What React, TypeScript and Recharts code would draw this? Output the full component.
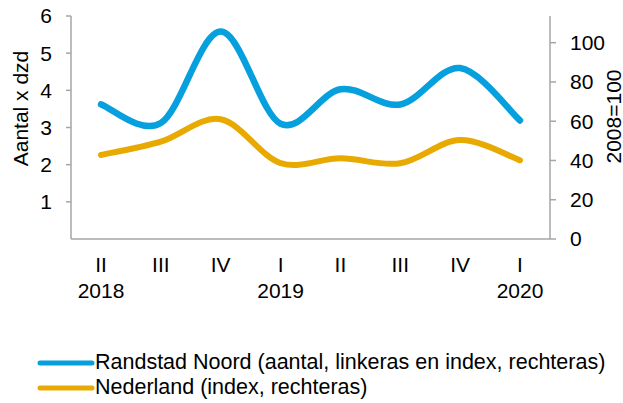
import React from "react";
import { LineChart, Line, XAxis, YAxis, Legend, Label } from "recharts";

// kwartalen en jaren onder de x-as
const quarters = ["II", "III", "IV", "I", "II", "III", "IV", "I"];
const years = ["2018", "", "", "2019", "", "", "", "2020"];

// Randstad Noord (aantal x dzd, linkeras)
const randstadNoord = [3.62, 3.12, 5.58, 3.1, 4.03, 3.62, 4.6, 3.19];
// Nederland (index 2008=100, rechteras)
const nederland = [42.8, 49.6, 61.0, 38.7, 41.1, 38.6, 50.4, 40.1];

const leftTicks = [1, 2, 3, 4, 5, 6];
const rightTicks = [0, 20, 40, 60, 80, 100];

const BLUE = "#05a0dd";
const ORANGE = "#e8a900";
const AXIS = "#a6a6a6";
const FONT = "'Liberation Sans', Arial, sans-serif";

const data = quarters.map((q, i) => ({
  q,
  year: years[i],
  randstad: randstadNoord[i],
  nederland: nederland[i],
}));

// Excel-achtige vloeiende lijn (Catmull-Rom)
const excelCurve = (context: any) => {
  let pts: number[][] = [];
  return {
    areaStart() {},
    areaEnd() {},
    lineStart() {
      pts = [];
    },
    point(x: number, y: number) {
      pts.push([+x, +y]);
    },
    lineEnd() {
      const n = pts.length;
      if (!n) return;
      context.moveTo(pts[0][0], pts[0][1]);
      for (let i = 0; i < n - 1; i++) {
        const p0 = pts[Math.max(i - 1, 0)];
        const p1 = pts[i];
        const p2 = pts[i + 1];
        const p3 = pts[Math.min(i + 2, n - 1)];
        context.bezierCurveTo(
          p1[0] + (p2[0] - p0[0]) / 6,
          p1[1] + (p2[1] - p0[1]) / 6,
          p2[0] - (p3[0] - p1[0]) / 6,
          p2[1] - (p3[1] - p1[1]) / 6,
          p2[0],
          p2[1]
        );
      }
    },
  };
};

const QuarterTick = (props: any) => {
  const { x, y, payload } = props;
  const year = years[payload.index];
  return (
    <g>
      <text x={x} y={y + 33} textAnchor="middle" fontSize={21} fill="#000" fontFamily={FONT}>
        {payload.value}
      </text>
      {year && (
        <text x={x} y={y + 59} textAnchor="middle" fontSize={21} fill="#000" fontFamily={FONT}>
          {year}
        </text>
      )}
    </g>
  );
};

const legendItems = [
  { label: "Randstad Noord (aantal, linkeras en index, rechteras)", color: BLUE },
  { label: "Nederland (index, rechteras)", color: ORANGE },
];

const LegendContent = () => (
  <div style={{ fontFamily: FONT, fontSize: 21.5, color: "#000" }}>
    {legendItems.map((item) => (
      <div key={item.label} style={{ display: "flex", alignItems: "center", height: 25 }}>
        <svg width={58} height={10} style={{ display: "block" }}>
          <line x1={3} y1={5} x2={55} y2={5} stroke={item.color} strokeWidth={5} strokeLinecap="round" />
        </svg>
        <span style={{ whiteSpace: "nowrap", lineHeight: "25px" }}>{item.label}</span>
      </div>
    ))}
  </div>
);

const App = () => {
  return (
    <div style={{ position: "absolute", left: 0, top: 0, background: "#fff" }}>
      <LineChart
        width={623}
        height={403}
        data={data}
        margin={{ top: 16, right: 0, bottom: 104, left: 0 }}
      >
        <XAxis
          dataKey="q"
          xAxisId="x"
          height={60}
          padding={{ left: 30, right: 30 }}
          axisLine={{ stroke: AXIS, strokeWidth: 1.5 }}
          tickLine={false}
          tickSize={0}
          tickMargin={0}
          interval={0}
          tick={<QuarterTick />}
        />
        <YAxis
          yAxisId="left"
          width={71}
          domain={[0, 6]}
          ticks={leftTicks}
          axisLine={{ stroke: AXIS, strokeWidth: 1.5 }}
          tickLine={{ stroke: AXIS, strokeWidth: 1.5 }}
          tickSize={5}
          tickMargin={14}
          tick={{ fontSize: 21, fill: "#000", fontFamily: FONT }}
        >
          <Label
            content={(p: any) => {
              const vb = p.viewBox;
              const cx = vb.x + 20;
              const cy = vb.y + vb.height / 2 - 19;
              return (
                <text
                  x={cx}
                  y={cy}
                  transform={`rotate(-90, ${cx}, ${cy})`}
                  textAnchor="middle"
                  dominantBaseline="central"
                  fontSize={21}
                  fill="#000"
                  fontFamily={FONT}
                >
                  Aantal x dzd
                </text>
              );
            }}
          />
        </YAxis>
        <YAxis
          yAxisId="right"
          orientation="right"
          width={73}
          domain={[0, 113.6]}
          ticks={rightTicks}
          allowDataOverflow
          axisLine={{ stroke: AXIS, strokeWidth: 1.5 }}
          tickLine={{ stroke: AXIS, strokeWidth: 1.5 }}
          tickSize={6}
          tickMargin={14}
          tick={{ fontSize: 21, fill: "#000", fontFamily: FONT }}
        >
          <Label
            content={(p: any) => {
              const vb = p.viewBox;
              const cx = vb.x + 63;
              const cy = vb.y + vb.height / 2 - 11;
              return (
                <text
                  x={cx}
                  y={cy}
                  transform={`rotate(-90, ${cx}, ${cy})`}
                  textAnchor="middle"
                  dominantBaseline="central"
                  fontSize={21}
                  fill="#000"
                  fontFamily={FONT}
                >
                  2008=100
                </text>
              );
            }}
          />
        </YAxis>
        <Line
          xAxisId="x"
          yAxisId="right"
          dataKey="nederland"
          type={excelCurve as any}
          stroke={ORANGE}
          strokeWidth={6}
          strokeLinecap="round"
          dot={false}
          activeDot={false}
          isAnimationActive={false}
        />
        <Line
          xAxisId="x"
          yAxisId="left"
          dataKey="randstad"
          type={excelCurve as any}
          stroke={BLUE}
          strokeWidth={6.5}
          strokeLinecap="round"
          dot={false}
          activeDot={false}
          isAnimationActive={false}
        />
        <Legend
          layout="vertical"
          align="center"
          verticalAlign="middle"
          wrapperStyle={{ left: 37, top: 350, width: 586 }}
          content={<LegendContent />}
        />
      </LineChart>
    </div>
  );
};

export default App;
